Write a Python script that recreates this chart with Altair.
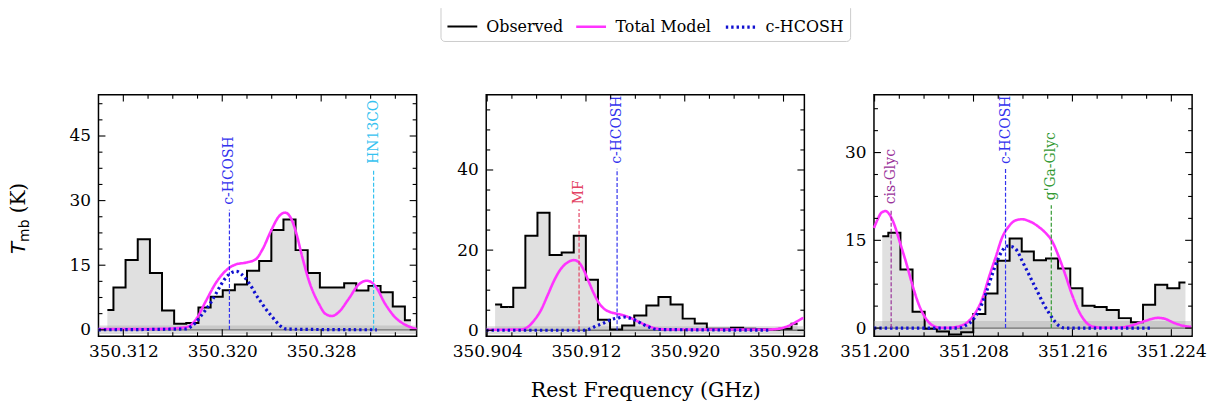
import altair as alt
import pandas as pd

SERIF = "DejaVu Serif"
SANS = "DejaVu Sans"
W, H = 320, 243
TICK_FS = 17

SERIES = ["Observed", "Total Model", "c-HCOSH"]
SERIES_COLORS = ["#000000", "#ff33ff", "#1010d0"]
SERIES_DASH = [[1, 0], [1, 0], [2.4, 3.0]]
SERIES_WIDTH = [2.0, 3.2, 2.6]

# ---------------- Panel 1 ----------------
p1_freq = [350.31071, 350.31169, 350.31267, 350.31366, 350.31464, 350.31562, 350.31660,
           350.31758, 350.31857, 350.31955, 350.32053, 350.32151, 350.32249, 350.32348,
           350.32446, 350.32544, 350.32642, 350.32740, 350.32839, 350.32937, 350.33035,
           350.33133, 350.33231, 350.33330, 350.33428, 350.33526]
p1_obs = [4.6, 9.8, 16.2, 21.0, 13.2, 4.5, 1.4, 1.6, 5.2, 7.7, 9.2, 10.5, 13.7, 16.0,
          23.2, 25.6, 18.5, 13.2, 9.8, 9.8, 10.8, 9.1, 10.2, 8.7, 5.4, 2.2]
p1_model_freq = [350.30999, 350.31200, 350.31468, 350.31710, 350.31790, 350.31870, 350.31951,
                 350.32031, 350.32112, 350.32192, 350.32272, 350.32326, 350.32393, 350.32460,
                 350.32508, 350.32554, 350.32594, 350.32648, 350.32701, 350.32782, 350.32835,
                 350.32889, 350.32942, 350.33023, 350.33103, 350.33170, 350.33237, 350.33318,
                 350.33398, 350.33478, 350.33572]
p1_model = [0.2, 0.2, 0.2, 0.6, 2.5, 6.8, 11.0, 13.8, 15.2, 15.6, 16.4, 18.7, 22.9, 26.4,
            27.2, 26.0, 22.9, 16.8, 11.4, 6.0, 3.7, 3.2, 4.1, 7.2, 10.5, 11.4, 10.2, 6.0,
            2.9, 1.2, 0.2]
p1_comp_freq = [350.30999, 350.31710, 350.31750, 350.31790, 350.31830, 350.31870, 350.31911,
                350.31951, 350.31991, 350.32031, 350.32071, 350.32112, 350.32152, 350.32192,
                350.32232, 350.32272, 350.32312, 350.32353, 350.32393, 350.32433, 350.32473,
                350.32527, 350.33250]
p1_comp = [0.0, 0.2, 0.8, 1.8, 3.3, 4.8, 6.5, 8.5, 10.5, 12.2, 13.2, 13.6, 13.0, 11.8,
           10.2, 8.2, 6.5, 4.8, 3.4, 2.0, 0.8, 0.15, 0.0]
p1_line_freq = [350.32058, 350.33224]
p1_line_name = ["c-HCOSH", "HN13CO"]
p1_line_color = ["#3333ee", "#35c2f0"]
p1_line_top = [27.9, 37.4]
p1_xdomain = [350.30999, 350.33572]
p1_ydomain = [-1.5, 54.6]
p1_xmajor = [350.312, 350.320, 350.328]
p1_xminor = [350.314, 350.316, 350.318, 350.322, 350.324, 350.326, 350.330, 350.332, 350.334]
p1_ymajor = [0, 15, 30, 45]
p1_yminor = [3.75, 7.5, 11.25, 18.75, 22.5, 26.25, 33.75, 37.5, 41.25, 48.75, 52.5]
p1_sigma = 1.0

# ---------------- Panel 2 ----------------
p2_freq = [350.90464, 350.90562, 350.90660, 350.90758, 350.90856, 350.90954, 350.91052,
           350.91150, 350.91248, 350.91346, 350.91444, 350.91542, 350.91640, 350.91738,
           350.91836, 350.91934, 350.92032, 350.92130, 350.92228, 350.92326, 350.92424,
           350.92522, 350.92620, 350.92718, 350.92816, 350.92914]
p2_obs = [6.4, 5.8, 10.6, 23.6, 29.3, 18.8, 19.4, 23.6, 12.6, 2.6, 0.2, 1.2, 3.7, 6.2,
          8.3, 6.4, 2.9, 1.7, 0.4, 0.4, 0.6, 0.4, 0.3, 0.2, 0.4, 1.6]
p2_model_freq = [350.90392, 350.90674, 350.90728, 350.90781, 350.90835, 350.90889, 350.90942,
                 350.90996, 350.91050, 350.91103, 350.91144, 350.91184, 350.91224, 350.91265,
                 350.91305, 350.91345, 350.91399, 350.91452, 350.91506, 350.91560, 350.91613,
                 350.91694, 350.91774, 350.91882, 350.92687, 350.92767, 350.92848, 350.92915,
                 350.92961]
p2_model = [0.1, 0.2, 0.8, 2.5, 5.0, 8.7, 12.4, 15.3, 16.9, 17.5, 16.9, 14.9, 12.0, 9.1,
            6.8, 5.4, 4.5, 4.1, 3.7, 3.1, 2.3, 1.2, 0.4, 0.2, 0.2, 0.4, 1.2, 2.3, 3.1]
p2_comp_freq = [350.90392, 350.91184, 350.91238, 350.91278, 350.91345, 350.91399, 350.91466,
                350.91506, 350.91546, 350.91613, 350.91667, 350.91721, 350.91774, 350.92700]
p2_comp = [0.0, 0.0, 0.4, 1.0, 1.8, 2.6, 3.1, 3.3, 3.1, 2.3, 1.4, 0.7, 0.2, 0.0]
p2_line_freq = [350.91144, 350.91452]
p2_line_name = ["MF", "c-HCOSH"]
p2_line_color = ["#e34363", "#3333ee"]
p2_line_top = [30.2, 40.3]
p2_xdomain = [350.90392, 350.92969]
p2_ydomain = [-1.5, 58.8]
p2_xmajor = [350.904, 350.912, 350.920, 350.928]
p2_xminor = [350.906, 350.908, 350.910, 350.914, 350.916, 350.918, 350.922, 350.924, 350.926]
p2_ymajor = [0, 20, 40]
p2_yminor = [5, 10, 15, 25, 30, 35, 45, 50, 55]
p2_sigma = 1.0

# ---------------- Panel 3 ----------------
p3_freq = [351.20062, 351.20160, 351.20258, 351.20356, 351.20454, 351.20553, 351.20651,
           351.20749, 351.20847, 351.20945, 351.21043, 351.21141, 351.21239, 351.21337,
           351.21435, 351.21533, 351.21632, 351.21730, 351.21828, 351.21926, 351.22024,
           351.22122, 351.22220, 351.22318, 351.22416, 351.22514]
p3_obs = [15.7, 16.3, 10.0, 2.8, -0.1, -0.6, -1.1, -0.7, 2.4, 5.9, 11.5, 15.3, 13.1, 11.6,
          11.9, 10.2, 6.8, 3.8, 3.6, 3.1, 1.7, 1.0, 4.0, 7.4, 6.8, 7.8]
p3_model_freq = [351.19995, 351.20027, 351.20054, 351.20089, 351.20121, 351.20161, 351.20201,
                 351.20255, 351.20308, 351.20362, 351.20416, 351.20469, 351.20536, 351.20603,
                 351.20684, 351.20751, 351.20818, 351.20871, 351.20925, 351.20979, 351.21032,
                 351.21086, 351.21139, 351.21193, 351.21247, 351.21327, 351.21381, 351.21434,
                 351.21488, 351.21541, 351.21595, 351.21649, 351.21702, 351.21756, 351.21836,
                 351.21970, 351.22077, 351.22185, 351.22292, 351.22345, 351.22426, 351.22506,
                 351.22560]
p3_model = [17.1, 18.7, 19.7, 20.0, 19.4, 17.6, 14.9, 11.2, 7.2, 3.8, 1.6, 0.45, 0.06, 0.06,
            0.3, 1.0, 2.7, 5.0, 8.7, 12.1, 15.5, 17.4, 18.4, 18.6, 18.3, 17.3, 16.3, 14.9,
            12.3, 9.2, 5.8, 3.0, 1.2, 0.3, 0.06, 0.06, 0.45, 1.2, 1.75, 1.6, 0.85, 0.35, 0.2]
p3_comp_freq = [351.19995, 351.20684, 351.20737, 351.20791, 351.20844, 351.20898, 351.20952,
                351.20992, 351.21032, 351.21072, 351.21113, 351.21153, 351.21193, 351.21247,
                351.21287, 351.21327, 351.21367, 351.21407, 351.21448, 351.21488, 351.21541,
                351.22238]
p3_comp = [0.0, 0.0, 0.45, 1.3, 3.0, 5.8, 9.2, 11.5, 13.2, 14.0, 13.9, 13.2, 11.5, 9.2,
           7.5, 5.8, 4.1, 2.7, 1.4, 0.45, 0.0, 0.0]
p3_line_freq = [351.20134, 351.21059, 351.21429]
p3_line_name = ["cis-Glyc", "c-HCOSH", "g'Ga-Glyc"]
p3_line_color = ["#993399", "#3333ee", "#339933"]
p3_line_top = [20.3, 27.2, 21.0]
p3_xdomain = [351.19995, 351.22568]
p3_ydomain = [-1.4, 39.9]
p3_xmajor = [351.200, 351.208, 351.216, 351.224]
p3_xminor = [351.202, 351.204, 351.206, 351.210, 351.212, 351.214, 351.218, 351.220, 351.222]
p3_ymajor = [0, 15, 30]
p3_yminor = [3.75, 7.5, 11.25, 18.75, 22.5, 26.25, 33.75, 37.5]
p3_sigma = 1.2

LEGEND = alt.Legend(
    title=None, orient="none", legendX=344, legendY=-91, direction="horizontal",
    symbolType="stroke", symbolSize=900, labelFont=SERIF, labelFontSize=16,
    labelColor="black", labelOffset=8, columnPadding=7, padding=6,
    strokeColor="#cccccc", cornerRadius=4, fillColor="white", labelLimit=300,
)


def series_enc():
    return dict(
        color=alt.Color("series:N", scale=alt.Scale(domain=SERIES, range=SERIES_COLORS), legend=LEGEND),
        strokeDash=alt.StrokeDash("series:N", scale=alt.Scale(domain=SERIES, range=SERIES_DASH), legend=LEGEND),
        strokeWidth=alt.StrokeWidth("series:N", scale=alt.Scale(domain=SERIES, range=SERIES_WIDTH), legend=LEGEND),
    )


def panel(freq, obs, mfreq, model, cfreq, comp, lfreq, lname, lcolor, ltop,
          xdom, ydom, xmajor, xminor, ymajor, yminor, sigma, xtitle=None, ytitle=False):
    xs = alt.Scale(domain=xdom, nice=False, zero=False)
    ys = alt.Scale(domain=ydom, nice=False, zero=False)
    xaxis = alt.Axis(values=xmajor, format=".3f", ticks=False, domain=False, grid=False,
                     labelFont=SERIF, labelFontSize=TICK_FS, labelColor="black", labelPadding=7,
                     labelFlush=False, labelOverlap=False, title=xtitle,
                     titleFont=SERIF, titleFontSize=20.5, titleFontWeight="normal",
                     titleColor="black", titlePadding=22)
    yaxis = alt.Axis(values=ymajor, format="d", ticks=False, domain=False, grid=False,
                     labelFont=SERIF, labelFontSize=TICK_FS, labelColor="black", labelPadding=8,
                     title=None)

    def X(f):
        return alt.X(f"{f}:Q", scale=xs, axis=xaxis)

    def Y(f):
        return alt.Y(f"{f}:Q", scale=ys, axis=yaxis)

    obs_df = pd.DataFrame({"freq": freq, "T": obs, "series": "Observed"})
    mod_df = pd.DataFrame({"freq": mfreq, "T": model, "series": "Total Model"})
    comp_df = pd.DataFrame({"freq": cfreq, "T": comp, "series": "c-HCOSH"})
    lines_df = pd.DataFrame({"freq": lfreq, "name": lname, "color": lcolor,
                             "top": ltop, "base": [0.0] * len(lfreq)})
    band_df = pd.DataFrame({"lo": [-sigma], "hi": [sigma]})

    fill = alt.Chart(obs_df).mark_area(interpolate="step", color="#e0e0e0").encode(
        x=X("freq"), y=Y("T"), y2=alt.datum(0))
    band = alt.Chart(band_df).mark_rect(color="#a8a8a8", opacity=0.4, clip=True).encode(
        x=alt.value(0), x2=alt.value(W), y=Y("lo"), y2="hi:Q")
    zero = alt.Chart(band_df).mark_rule(color="#707070", strokeWidth=1.3).encode(y=alt.datum(0, type="quantitative"))
    step = alt.Chart(obs_df).mark_line(interpolate="step").encode(
        x=X("freq"), y=Y("T"), **series_enc())
    mod = alt.Chart(mod_df).mark_line(interpolate="monotone").encode(
        x=X("freq"), y=Y("T"), **series_enc())
    cmp_ = alt.Chart(comp_df).mark_line(interpolate="monotone").encode(
        x=X("freq"), y=Y("T"), **series_enc())
    vrule = alt.Chart(lines_df).mark_rule(strokeDash=[4, 2], strokeWidth=1.2).encode(
        x=X("freq"), y=Y("base"), y2="top:Q", stroke=alt.Stroke("color:N", scale=None))
    vtext = alt.Chart(lines_df).mark_text(angle=270, align="left", baseline="middle", dx=5,
                                          font=SERIF, fontSize=14).encode(
        x=X("freq"), y=Y("top"), text="name:N", fill=alt.Fill("color:N", scale=None))

    tick_layers = []
    for vals, ln in ((xmajor, 7), (xminor, 4)):
        tdf = pd.DataFrame({"v": vals})
        tick_layers.append(alt.Chart(tdf).mark_rule(color="black", strokeWidth=1.1).encode(
            x=X("v"), y=alt.value(H), y2=alt.value(H - ln)))
        tick_layers.append(alt.Chart(tdf).mark_rule(color="black", strokeWidth=1.1).encode(
            x=X("v"), y=alt.value(0), y2=alt.value(ln)))
    for vals, ln in ((ymajor, 7), (yminor, 4)):
        tdf = pd.DataFrame({"v": vals})
        tick_layers.append(alt.Chart(tdf).mark_rule(color="black", strokeWidth=1.1).encode(
            y=Y("v"), x=alt.value(0), x2=alt.value(ln)))
        tick_layers.append(alt.Chart(tdf).mark_rule(color="black", strokeWidth=1.1).encode(
            y=Y("v"), x=alt.value(W), x2=alt.value(W - ln)))

    layers = [fill, band, zero, step, mod, cmp_, vrule, vtext] + tick_layers
    if ytitle:
        layers.append(alt.Chart(band_df).mark_text(angle=270, align="left", baseline="alphabetic",
                                                   font=SANS, fontSize=20, fontStyle="italic",
                                                   color="black").encode(
            x=alt.value(-74), y=alt.value(160.3), text=alt.value("T")))
        layers.append(alt.Chart(band_df).mark_text(angle=270, align="left", baseline="alphabetic",
                                                   font=SANS, fontSize=14, color="black").encode(
            x=alt.value(-70), y=alt.value(148.1), text=alt.value("mb")))
        layers.append(alt.Chart(band_df).mark_text(angle=270, align="left", baseline="alphabetic",
                                                   font=SERIF, fontSize=20, color="black").encode(
            x=alt.value(-74), y=alt.value(119.3), text=alt.value("(K)")))
    return alt.layer(*layers).properties(width=W, height=H)


c1 = panel(p1_freq, p1_obs, p1_model_freq, p1_model, p1_comp_freq, p1_comp,
           p1_line_freq, p1_line_name, p1_line_color, p1_line_top,
           p1_xdomain, p1_ydomain, p1_xmajor, p1_xminor, p1_ymajor, p1_yminor, p1_sigma,
           ytitle=True)
c2 = panel(p2_freq, p2_obs, p2_model_freq, p2_model, p2_comp_freq, p2_comp,
           p2_line_freq, p2_line_name, p2_line_color, p2_line_top,
           p2_xdomain, p2_ydomain, p2_xmajor, p2_xminor, p2_ymajor, p2_yminor, p2_sigma,
           xtitle="Rest Frequency (GHz)")
c3 = panel(p3_freq, p3_obs, p3_model_freq, p3_model, p3_comp_freq, p3_comp,
           p3_line_freq, p3_line_name, p3_line_color, p3_line_top,
           p3_xdomain, p3_ydomain, p3_xmajor, p3_xminor, p3_ymajor, p3_yminor, p3_sigma)

chart = alt.hconcat(c1, c2, c3, spacing=70, bounds="flush").resolve_scale(
    x="independent", y="independent"
).properties(
    padding={"left": 0, "top": -6, "right": 5, "bottom": 5},
    background="white",
).configure_view(stroke="black", strokeWidth=1.5).configure_axis(
    labelFont=SERIF, labelFontSize=TICK_FS
)

chart.save("out.html", embed_options={"renderer": "svg", "actions": False})
